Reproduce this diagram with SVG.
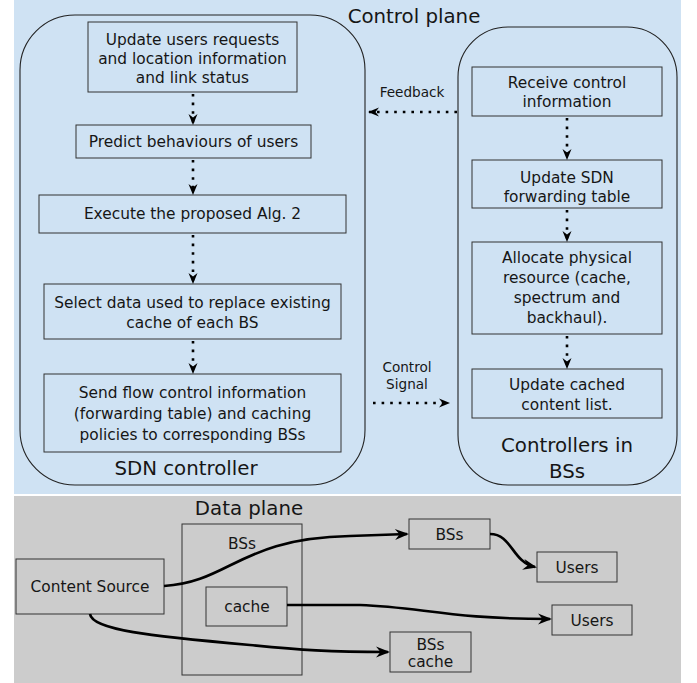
<svg xmlns="http://www.w3.org/2000/svg" width="697" height="683" viewBox="0 0 697 683">
<defs>
<style>
text{font-family:"DejaVu Sans","Liberation Sans",sans-serif;fill:#161616;text-anchor:middle}
.t{font-size:15.4px}
.big{font-size:19.8px}
.sm{font-size:13.6px}
.box{fill:none;stroke:#333;stroke-width:1}
.ctl{fill:none;stroke:#222;stroke-width:1.1}
.dot{fill:none;stroke:#000;stroke-width:2.6;stroke-dasharray:2.6 6}
.sol{fill:none;stroke:#000;stroke-width:2.6}
</style>
<marker id="ad" markerUnits="userSpaceOnUse" markerWidth="20" markerHeight="20" refX="0" refY="0" viewBox="-12 -10 16 20" orient="auto">
<path d="M1,0 L-10,-4.5 L-6.5,0 L-10,4.5 Z" fill="#000"/>
</marker>
<marker id="as" markerUnits="userSpaceOnUse" markerWidth="24" markerHeight="20" refX="0" refY="0" viewBox="-16 -10 20 20" orient="auto">
<path d="M2,0 L-12,-5.5 L-7.5,0 L-12,5.5 Z" fill="#000"/>
</marker>
</defs>
<rect x="14" y="0" width="667" height="494" fill="#cfe2f3"/>
<rect x="14" y="496" width="667" height="187" fill="#cccccc"/>
<text class="big" x="414" y="23">Control plane</text>

<g id="sdn">
<rect class="ctl" x="20" y="15" width="345" height="470" rx="55" ry="55"/>
<text class="big" x="186" y="475">SDN controller</text>
</g>
<g id="bsctl">
<rect class="ctl" x="458" y="27" width="219" height="458" rx="50" ry="50"/>
<text class="big" x="567" y="452">Controllers in</text>
<text class="big" x="567" y="478">BSs</text>
</g>

<g id="n1"><rect class="box" x="88" y="22" width="209" height="70"/>
<text class="t" x="192.5" y="45">Update users requests</text>
<text class="t" x="192.5" y="64">and location information</text>
<text class="t" x="192.5" y="83">and link status</text></g>
<g id="n2"><rect class="box" x="76" y="125" width="235" height="33"/>
<text class="t" x="193.5" y="147">Predict behaviours of users</text></g>
<g id="n3"><rect class="box" x="39" y="195" width="307" height="38"/>
<text class="t" x="192.5" y="219">Execute the proposed Alg. 2</text></g>
<g id="n4"><rect class="box" x="44" y="284" width="297" height="55"/>
<text class="t" x="192.5" y="308">Select data used to replace existing</text>
<text class="t" x="192.5" y="328">cache of each BS</text></g>
<g id="n5"><rect class="box" x="44" y="374" width="297" height="78"/>
<text class="t" x="192.5" y="398">Send flow control information</text>
<text class="t" x="192.5" y="419">(forwarding table) and caching</text>
<text class="t" x="192.5" y="440">policies to corresponding BSs</text></g>

<g id="r1"><rect class="box" x="472" y="67" width="190" height="49"/>
<text class="t" x="567" y="88">Receive control</text>
<text class="t" x="567" y="107">information</text></g>
<g id="r2"><rect class="box" x="472" y="160" width="190" height="48"/>
<text class="t" x="567" y="183">Update SDN</text>
<text class="t" x="567" y="202">forwarding table</text></g>
<g id="r3"><rect class="box" x="472" y="242" width="190" height="92"/>
<text class="t" x="567" y="263">Allocate physical</text>
<text class="t" x="567" y="283">resource (cache,</text>
<text class="t" x="567" y="303">spectrum and</text>
<text class="t" x="567" y="323">backhaul).</text></g>
<g id="r4"><rect class="box" x="472" y="369" width="190" height="49"/>
<text class="t" x="567" y="390">Update cached</text>
<text class="t" x="567" y="410">content list.</text></g>

<text class="big" x="249" y="515">Data plane</text>
<g id="bsgroup"><rect class="box" x="182" y="524" width="120" height="151"/>
<text class="t" x="242" y="549">BSs</text></g>
<g id="src"><rect class="box" x="16" y="559" width="148" height="55"/>
<text class="t" x="90" y="592">Content Source</text></g>
<g id="cache"><rect class="box" x="206" y="587" width="81" height="39"/>
<text class="t" x="247" y="612">cache</text></g>
<g id="bs1"><rect class="box" x="409" y="519" width="81" height="30"/>
<text class="t" x="449.5" y="540">BSs</text></g>
<g id="u1"><rect class="box" x="537" y="552" width="80" height="30"/>
<text class="t" x="577" y="573">Users</text></g>
<g id="u2"><rect class="box" x="552" y="605" width="80" height="30"/>
<text class="t" x="592" y="626">Users</text></g>
<g id="bs2"><rect class="box" x="390" y="632" width="81" height="40"/>
<text class="t" x="430.5" y="650">BSs</text>
<text class="t" x="430.5" y="667">cache</text></g>

<g id="connectors">
<path class="dot" d="M193,94 V124" marker-end="url(#ad)"/>
<path class="dot" d="M193,160 V194" marker-end="url(#ad)"/>
<path class="dot" d="M193,235 V283" marker-end="url(#ad)"/>
<path class="dot" d="M193,341 V373" marker-end="url(#ad)"/>
<path class="dot" d="M567,118 V159" marker-end="url(#ad)"/>
<path class="dot" d="M567,210 V241" marker-end="url(#ad)"/>
<path class="dot" d="M567,336 V368" marker-end="url(#ad)"/>
<path class="dot" d="M457,112 H369" marker-end="url(#ad)"/>
<text class="sm" x="412" y="97">Feedback</text>
<path class="dot" d="M373,403 H449" marker-end="url(#ad)"/>
<text class="sm" x="407" y="372">Control</text>
<text class="sm" x="407" y="389">Signal</text>
<path class="sol" d="M164,586 C230,582 240,538 350,536 L407,534" marker-end="url(#as)"/>
<path class="sol" d="M490,534 C512,534 512,562 535,567" marker-end="url(#as)"/>
<path class="sol" d="M287,605 L360,605 C420,607 450,619 550,619" marker-end="url(#as)"/>
<path class="sol" d="M90,614 C92,630 150,636 250,645 C300,650 330,652 388,652" marker-end="url(#as)"/>
</g>
</svg>
